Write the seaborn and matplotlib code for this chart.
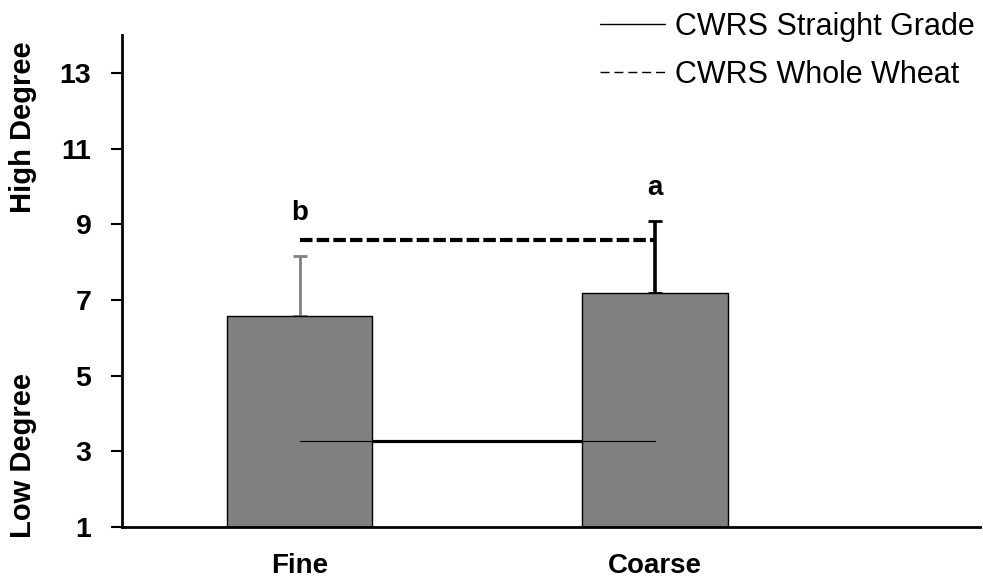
import matplotlib
matplotlib.use("Agg")
import matplotlib.pyplot as plt
import seaborn as sns
import pandas as pd
from matplotlib.lines import Line2D

categories = ["Fine", "Coarse"]
straight_grade = [6.57, 7.18]          # bar heights
straight_err = [1.6, 1.9]              # upper error
whole_wheat_level = [8.58, 8.58]       # dashed reference line
straight_line_level = [3.27, 3.27]     # solid reference line
letters = ["b", "a"]
letter_y = [9.11, 9.77]
yticks = [1, 3, 5, 7, 9, 11, 13]
err_colors = ["#808080", "black"]
err_widths = [2.0, 2.6]

sns.set_style("white")
plt.rcParams["font.family"] = ["Liberation Sans", "DejaVu Sans"]
for k in ["text.color", "axes.labelcolor", "xtick.color", "ytick.color"]:
    plt.rcParams[k] = "black"

fig = plt.figure(figsize=(9.83, 5.8), dpi=100)
ax = fig.add_axes([0.124, 0.0914, 0.873, 0.8483])

df = pd.DataFrame({"cat": categories, "val": straight_grade})
sns.barplot(data=df, x="cat", y="val", color="#808080", width=0.41,
            edgecolor="black", linewidth=1, saturation=1, ax=ax, zorder=2)

xs = list(range(len(categories)))
for i in xs:
    ax.errorbar(xs[i], straight_grade[i], yerr=[[0], [straight_err[i]]],
                fmt="none", ecolor=err_colors[i], elinewidth=err_widths[i],
                capsize=5, capthick=2, zorder=1)
    ax.text(xs[i], letter_y[i], letters[i], ha="center", va="baseline",
            fontsize=20, fontweight="bold")

# solid line: thick behind bars, thin on top
ax.plot(xs, straight_line_level, color="black", lw=2.3, zorder=1)
ax.plot(xs, straight_line_level, color="black", lw=0.8, zorder=3)
ax.plot(xs, whole_wheat_level, color="black", lw=3, ls=(0, (3, 1)), zorder=3)

ax.set_ylim(1, 14)
ax.set_xlim(-0.5, 1.915)
ax.set_yticks(yticks)
ax.set_yticklabels([str(t) for t in yticks], fontsize=20.5, fontweight="bold")
ax.set_xticks(xs)
ax.set_xticklabels(categories, fontsize=20, fontweight="bold")
ax.tick_params(axis="y", direction="out", length=8, width=1.5, left=True, pad=14)
ax.tick_params(axis="x", length=0, pad=19)
ax.set_xlabel("")
ax.set_ylabel("")
for s in ["top", "right"]:
    ax.spines[s].set_visible(False)
for s in ["left", "bottom"]:
    ax.spines[s].set_color("black")
    ax.spines[s].set_linewidth(2)

handles = [Line2D([], [], color="black", lw=1),
           Line2D([], [], color="black", lw=1, ls=(0, (6.5, 3.5)))]
leg = fig.legend(handles, ["CWRS Straight Grade", "CWRS Whole Wheat"],
                 loc="upper right", bbox_to_anchor=(1.013, 1.017), frameon=False,
                 fontsize=22, handlelength=2.15, handletextpad=0.3,
                 labelspacing=0.6, borderaxespad=0.3)

fig.text(0.023, 0.78, "High Degree", rotation=90, ha="center", va="center",
         fontsize=21, fontweight="bold")
fig.text(0.023, 0.215, "Low Degree", rotation=90, ha="center", va="center",
         fontsize=21, fontweight="bold")

fig.savefig("out.png", dpi=100)
